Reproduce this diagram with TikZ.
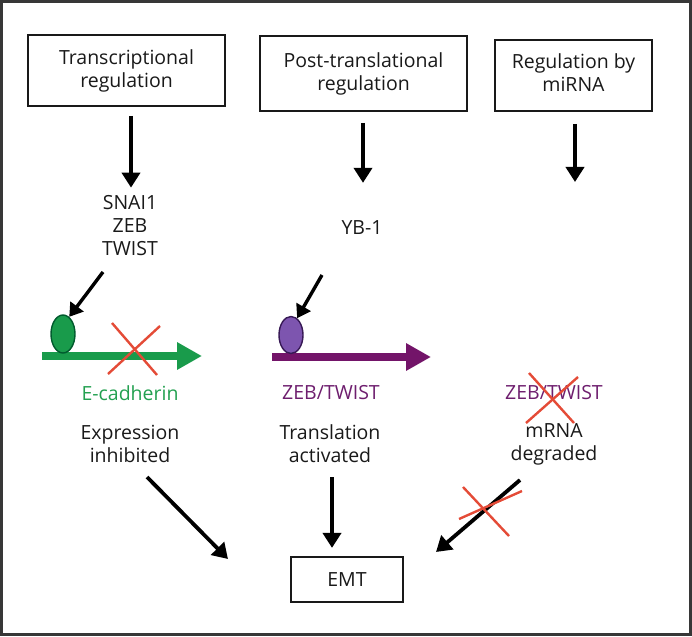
\documentclass[tikz,border=0pt]{standalone}
\usepackage{fontspec}
\setmainfont{Open Sans}
\usetikzlibrary{arrows.meta,shapes.geometric}
\definecolor{framec}{RGB}{55,55,55}
\definecolor{txt}{RGB}{25,25,25}
\definecolor{gfill}{RGB}{25,155,75}
\definecolor{gline}{RGB}{0,90,45}
\definecolor{gtext}{RGB}{35,160,80}
\definecolor{pline}{RGB}{115,20,105}
\definecolor{pfill}{RGB}{125,85,175}
\definecolor{pdraw}{RGB}{55,25,85}
\definecolor{ptext}{RGB}{110,30,110}
\definecolor{xred}{RGB}{228,75,55}
\tikzset{
  lab/.style={font=\fontsize{19.5}{23}\selectfont, text=txt, align=center, inner sep=0pt},
  regbox/.style={lab, draw=txt, line width=2.2pt},
  arr/.style={draw=black, line width=3.8pt, -{Triangle[length=15pt,width=18pt]}},
  sarr/.style={draw=black, line width=3.4pt, -{Triangle[length=13pt,width=16pt]}},
  gene/.style={line width=7.5pt, -{Triangle[length=25pt,width=26pt]}},
  crossline/.style={draw=xred, line width=2.4pt},
}
\begin{document}
\begin{tikzpicture}[x=1pt,y=-1pt]
\useasboundingbox (0,0) rectangle (692,636);
\draw[framec, line width=2.6pt] (1.5,1.5) rectangle (690.5,634.5);

% top boxes
\node[regbox, minimum width=197pt, minimum height=71pt] (b1) at (126.5,70.5) {Transcriptional\\regulation};
\node[regbox, minimum width=207pt, minimum height=75pt] (b2) at (363.5,73.5) {Post-translational\\regulation};
\node[regbox, minimum width=157pt, minimum height=71pt, text depth=6pt] (b3) at (573.5,75.5) {Regulation by\\miRNA};

% factors
\node[lab] (snai) at (130,226) {SNAI1\\ZEB\\TWIST};
\node[lab] (yb) at (362,228) {YB-1};

% arrows from boxes
\coordinate (a1s) at (131,116);
\coordinate (a2s) at (363,123);
\coordinate (a3s) at (575,124);
\draw[arr] (a1s) -- (snai.north -| a1s) [shorten >=8pt];
\draw[arr] (a2s) -- (yb.north -| a2s) [shorten >=38pt];
\draw[arr] (a3s) -- ++(0,58) coordinate (a3e);

% genes
\coordinate (gs) at (42,356);
\coordinate (ge) at (202,356);
\draw[gene, gfill] (gs) -- (ge);
\node[ellipse, fill=gfill, draw=gline, line width=1.4pt, minimum width=24pt, minimum height=38pt, inner sep=0pt] (gel) at (63,334) {};

\coordinate (ps) at (272,357);
\coordinate (pe) at (431,357);
\draw[gene, pline] (ps) -- (pe);
\node[ellipse, fill=pfill, draw=pdraw, line width=1.4pt, minimum width=24pt, minimum height=37pt, inner sep=0pt] (pel) at (291,335) {};

% small arrows to ellipses
\coordinate (s1) at (103,272);
\coordinate (s2) at (322,275);
\draw[sarr] (s1) -- (gel.70);
\draw[sarr] (s2) -- (pel.70);

% red cross on E-cadherin
\coordinate (x1a) at (112,323); \coordinate (x1b) at (157,375);
\coordinate (x1c) at (160,326); \coordinate (x1d) at (108,374);
\draw[crossline] (x1a) -- (x1b);
\draw[crossline] (x1c) -- (x1d);

% gene labels
\node[lab, text=gtext] (ecad) at (130,393) {E-cadherin};
\node[lab, text=ptext] (zt1) at (331,393) {ZEB/TWIST};
\node[lab, text=ptext] (zt2) at (554,393) {ZEB/TWIST};
\coordinate (x2a) at (529,373); \coordinate (x2b) at (574,423);
\coordinate (x2c) at (578,377); \coordinate (x2d) at (526,423);
\draw[crossline] (x2a) -- (x2b);
\draw[crossline] (x2c) -- (x2d);

% outcomes
\node[lab] (expr) at (130,444) {Expression\\inhibited};
\node[lab] (trans) at (330,444) {Translation\\activated};
\node[lab] (mrna) at (554,444) {mRNA\\degraded};

% EMT
\node[regbox, minimum width=112pt, minimum height=45pt] (emt) at (347,579.5) {EMT};

\coordinate (l1s) at (147,477);
\coordinate (l1e) at (228,559);
\draw[arr] (l1s) -- (l1e);
\coordinate (m1s) at (332,477);
\draw[arr, shorten >=8pt] (m1s) -- (emt.north -| m1s);
\coordinate (r1s) at (520,480);
\coordinate (r1e) at (436,552);
\draw[arr] (r1s) -- (r1e);
\coordinate (x3a) at (463,487); \coordinate (x3b) at (509,536);
\coordinate (x3c) at (522,491); \coordinate (x3d) at (459,519);
\draw[crossline] (x3a) -- (x3b);
\draw[crossline] (x3c) -- (x3d);
\end{tikzpicture}
\end{document}
